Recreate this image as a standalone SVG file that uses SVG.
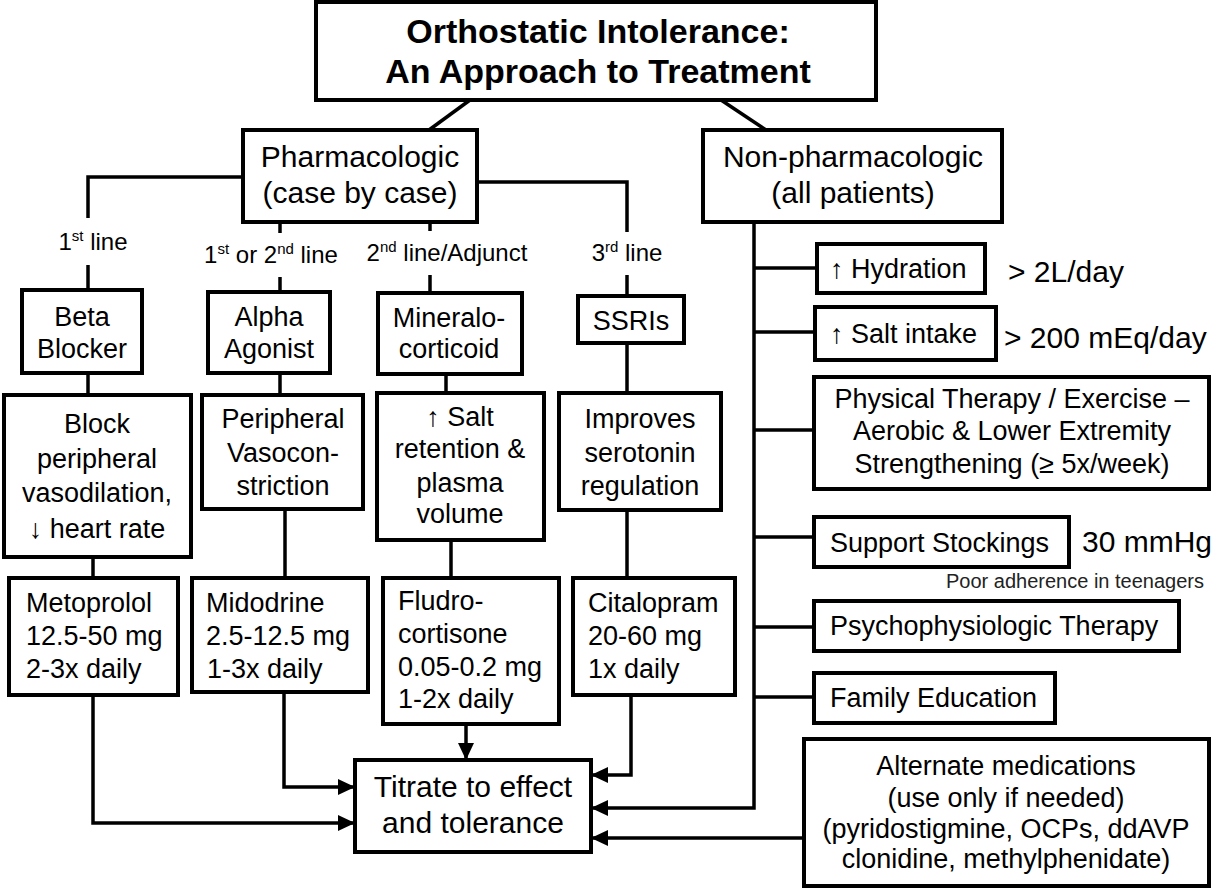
<svg xmlns="http://www.w3.org/2000/svg" width="1212" height="888" viewBox="0 0 1212 888">
<style>
.box{fill:#fff;stroke:#000;stroke-width:4}
.ln{fill:none;stroke:#000;stroke-width:3.5}
.t{font-family:"Liberation Sans",Arial,sans-serif;font-size:27px;fill:#000}
.c{text-anchor:middle}
.big{font-size:30px}
.lab{font-size:24px}
.title{font-size:34px;font-weight:bold}
.note{font-size:20px;fill:#222}
</style>
<defs>
<marker id="ah" markerUnits="userSpaceOnUse" markerWidth="18" markerHeight="16" refX="17" refY="8" orient="auto">
<path d="M0,0 L17,8 L0,16 z" fill="#000"/>
</marker>
</defs>
<rect width="1212" height="888" fill="#fff"/>

<g id="connectors">
<path class="ln" d="M470,100 L429,130"/>
<path class="ln" d="M721,100 L766,130"/>
<path class="ln" d="M245,177 L88,177 L88,218"/>
<path class="ln" d="M88,265 L88,290"/>
<path class="ln" d="M280,222 L280,233"/>
<path class="ln" d="M280,277 L280,292"/>
<path class="ln" d="M430,222 L430,231"/>
<path class="ln" d="M430,275 L430,293"/>
<path class="ln" d="M477,182 L627,182 L627,232"/>
<path class="ln" d="M627,275 L627,296"/>
<path class="ln" d="M88,373 L88,395"/>
<path class="ln" d="M93,557 L93,578"/>
<path class="ln" d="M280,373 L280,395"/>
<path class="ln" d="M285,509 L285,578"/>
<path class="ln" d="M446,374 L446,393"/>
<path class="ln" d="M451,540 L451,578"/>
<path class="ln" d="M627,343 L627,393"/>
<path class="ln" d="M627,510 L627,578"/>
<path class="ln" d="M93,695 L93,823 L355,823" marker-end="url(#ah)"/>
<path class="ln" d="M284,692 L284,787 L355,787" marker-end="url(#ah)"/>
<path class="ln" d="M466,724 L466,760" marker-end="url(#ah)"/>
<path class="ln" d="M631,695 L631,775 L591,775" marker-end="url(#ah)"/>
<path class="ln" d="M754,222 L754,808 L591,808" marker-end="url(#ah)"/>
<path class="ln" d="M804,838 L591,838" marker-end="url(#ah)"/>
<path class="ln" d="M754,268 L817,268"/>
<path class="ln" d="M754,332 L815,332"/>
<path class="ln" d="M754,430 L814,430"/>
<path class="ln" d="M754,537 L814,537"/>
<path class="ln" d="M754,627 L814,627"/>
<path class="ln" d="M754,697 L814,697"/>
</g>

<g id="title">
<rect class="box" x="316" y="2" width="560" height="98"/>
<text class="t c title" x="598" y="43">Orthostatic Intolerance:</text>
<text class="t c title" x="598" y="83">An Approach to Treatment</text>
</g>

<g id="pharm">
<rect class="box" x="243" y="130" width="234" height="92"/>
<text class="t c big" x="360" y="167">Pharmacologic</text>
<text class="t c big" x="360" y="203">(case by case)</text>
</g>

<g id="nonpharm">
<rect class="box" x="703" y="130" width="299" height="92"/>
<text class="t c big" x="853" y="167">Non-pharmacologic</text>
<text class="t c big" x="853" y="203">(all patients)</text>
</g>

<g id="labels">
<text class="t c lab" x="93" y="250">1<tspan font-size="15" dy="-9">st</tspan><tspan dy="9"> line</tspan></text>
<text class="t c lab" x="271" y="263">1<tspan font-size="15" dy="-9">st</tspan><tspan dy="9"> or 2</tspan><tspan font-size="15" dy="-9">nd</tspan><tspan dy="9"> line</tspan></text>
<text class="t c lab" x="447" y="261">2<tspan font-size="15" dy="-9">nd</tspan><tspan dy="9"> line/Adjunct</tspan></text>
<text class="t c lab" x="627" y="261">3<tspan font-size="15" dy="-9">rd</tspan><tspan dy="9"> line</tspan></text>
</g>

<g id="beta">
<rect class="box" x="22" y="290" width="120" height="83"/>
<text class="t c" x="82" y="326">Beta</text>
<text class="t c" x="82" y="358">Blocker</text>
</g>
<g id="alpha">
<rect class="box" x="208" y="292" width="122" height="81"/>
<text class="t c" x="269" y="326">Alpha</text>
<text class="t c" x="269" y="358">Agonist</text>
</g>
<g id="mineralo">
<rect class="box" x="378" y="293" width="144" height="81"/>
<text class="t c" x="449" y="327">Mineralo-</text>
<text class="t c" x="449" y="358">corticoid</text>
</g>
<g id="ssris">
<rect class="box" x="578" y="296" width="106" height="47"/>
<text class="t c" x="631" y="330">SSRIs</text>
</g>

<g id="block">
<rect class="box" x="4" y="395" width="187" height="162"/>
<text class="t c" x="97" y="433">Block</text>
<text class="t c" x="97" y="468">peripheral</text>
<text class="t c" x="97" y="502">vasodilation,</text>
<text class="t c" x="97" y="538">↓ heart rate</text>
</g>
<g id="peripheral">
<rect class="box" x="202" y="395" width="161" height="114"/>
<text class="t c" x="283" y="428">Peripheral</text>
<text class="t c" x="283" y="462">Vasocon-</text>
<text class="t c" x="283" y="495">striction</text>
</g>
<g id="saltret">
<rect class="box" x="377" y="393" width="167" height="147"/>
<text class="t c" x="460" y="426">↑ Salt</text>
<text class="t c" x="460" y="458">retention &amp;</text>
<text class="t c" x="460" y="492">plasma</text>
<text class="t c" x="460" y="523">volume</text>
</g>
<g id="improves">
<rect class="box" x="559" y="393" width="162" height="117"/>
<text class="t c" x="640" y="428">Improves</text>
<text class="t c" x="640" y="462">serotonin</text>
<text class="t c" x="640" y="495">regulation</text>
</g>

<g id="metoprolol">
<rect class="box" x="9" y="578" width="169" height="117"/>
<text class="t" x="26" y="612">Metoprolol</text>
<text class="t" x="26" y="645">12.5-50 mg</text>
<text class="t" x="26" y="678">2-3x daily</text>
</g>
<g id="midodrine">
<rect class="box" x="192" y="578" width="176" height="114"/>
<text class="t" x="206" y="612">Midodrine</text>
<text class="t" x="206" y="645">2.5-12.5 mg</text>
<text class="t" x="207" y="678">1-3x daily</text>
</g>
<g id="fludro">
<rect class="box" x="383" y="578" width="176" height="146"/>
<text class="t" x="398" y="610">Fludro-</text>
<text class="t" x="398" y="643">cortisone</text>
<text class="t" x="398" y="676">0.05-0.2 mg</text>
<text class="t" x="398" y="708">1-2x daily</text>
</g>
<g id="citalopram">
<rect class="box" x="573" y="578" width="162" height="117"/>
<text class="t" x="588" y="612">Citalopram</text>
<text class="t" x="588" y="645">20-60 mg</text>
<text class="t" x="588" y="678">1x daily</text>
</g>

<g id="titrate">
<rect class="box" x="355" y="760" width="236" height="92"/>
<text class="t c big" x="473" y="797">Titrate to effect</text>
<text class="t c big" x="473" y="833">and tolerance</text>
</g>

<g id="hydration">
<rect class="box" x="817" y="244" width="168" height="49"/>
<text class="t" x="830" y="278">↑ Hydration</text>
<text class="t big" x="1008" y="282">&gt; 2L/day</text>
</g>
<g id="saltintake">
<rect class="box" x="815" y="307" width="181" height="53"/>
<text class="t" x="830" y="343">↑ Salt intake</text>
<text class="t big" x="1004" y="348">&gt; 200 mEq/day</text>
</g>
<g id="physical">
<rect class="box" x="814" y="377" width="395" height="112"/>
<text class="t c" x="1012" y="408">Physical Therapy / Exercise –</text>
<text class="t c" x="1012" y="440">Aerobic &amp; Lower Extremity</text>
<text class="t c" x="1012" y="473">Strengthening (≥ 5x/week)</text>
</g>
<g id="stockings">
<rect class="box" x="814" y="517" width="255" height="50"/>
<text class="t" x="830" y="552">Support Stockings</text>
<text class="t big" x="1082" y="552">30 mmHg</text>
<text class="t note" x="1204" y="588" text-anchor="end">Poor adherence in teenagers</text>
</g>
<g id="psycho">
<rect class="box" x="814" y="601" width="365" height="50"/>
<text class="t" x="830" y="635">Psychophysiologic Therapy</text>
</g>
<g id="family">
<rect class="box" x="814" y="673" width="241" height="50"/>
<text class="t" x="830" y="707">Family Education</text>
</g>
<g id="alternate">
<rect class="box" x="804" y="739" width="405" height="147"/>
<text class="t c" x="1006" y="775">Alternate medications</text>
<text class="t c" x="1006" y="807">(use only if needed)</text>
<text class="t c" x="1006" y="838">(pyridostigmine, OCPs, ddAVP</text>
<text class="t c" x="1006" y="868">clonidine, methylphenidate)</text>
</g>
</svg>
